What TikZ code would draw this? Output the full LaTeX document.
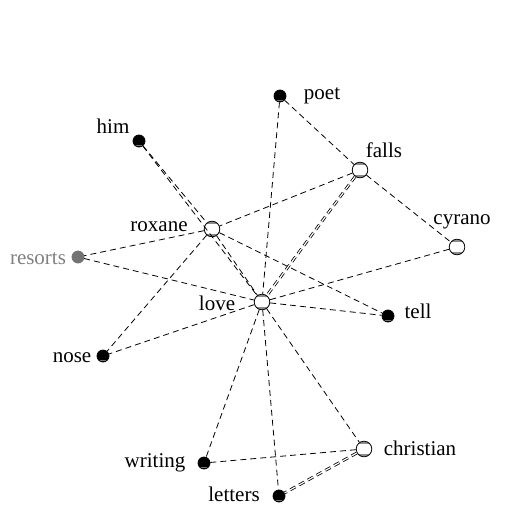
\documentclass[tikz,border=0pt]{standalone}
\usepackage{fontspec}
\setmainfont{Liberation Serif}
\begin{document}
\begin{tikzpicture}[x=0.5pt, y=-0.5pt,
  open/.style={circle, draw=black, line width=0.4pt, fill=white, inner sep=0pt, minimum size=7.8pt,
    path picture={
      \fill[black!45] ([yshift=-0.6pt]path picture bounding box.north west) rectangle ([yshift=-1.4pt]path picture bounding box.north east);
      \fill[black!45] ([yshift=0.5pt]path picture bounding box.south west) rectangle ([yshift=1.5pt]path picture bounding box.south east);}},
  closed/.style={circle, draw=black, line width=0.4pt, fill=black, inner sep=0pt, minimum size=6pt,
    path picture={
      \fill[black!55] ([yshift=0.4pt]path picture bounding box.south west) rectangle ([yshift=1.2pt]path picture bounding box.south east);}},
  grey/.style={closed, draw=black!55, fill=black!55},
  word/.style={anchor=base, inner sep=0pt, font=\fontsize{10.5}{12}\selectfont},
  link/.style={draw, line width=0.4pt, dash pattern=on 3pt off 2pt},
  twin/.style={link, double, double distance=0.6pt}
]
\useasboundingbox (0,0) rectangle (512,508);

% words
\node[closed] (poet) at (280,96) {};
\node[closed] (him) at (139,141) {};
\node[open] (falls) at (360,170) {};
\node[open] (cyrano) at (457,247) {};
\node[open] (roxane) at (212,229) {};
\node[grey] (resorts) at (78,257) {};
\node[open] (love) at (262,302) {};
\node[closed] (tell) at (388,316) {};
\node[closed] (nose) at (103,356) {};
\node[closed] (writing) at (204,463) {};
\node[open] (christian) at (364,449) {};
\node[closed] (letters) at (279,496) {};

% labels
\node[word] (poetlbl) at (322,99) {poet};
\node[word] (himlbl) at (113,133) {him};
\node[word] (fallslbl) at (384,157) {falls};
\node[word] (cyranolbl) at (462,224) {cyrano};
\node[word] (roxanelbl) at (159,231) {roxane};
\node[word, text=black!50] (resortslbl) at (38,264) {resorts};
\node[word] (lovelbl) at (217,310) {love};
\node[word] (telllbl) at (418,318) {tell};
\node[word] (noselbl) at (72,362) {nose};
\node[word] (writinglbl) at (155,467) {writing};
\node[word] (christianlbl) at (420,455) {christian};
\node[word] (letterslbl) at (234,501) {letters};

% links
\path[link] (poet) -- (falls);
\path[link] (poet) -- (love);
\path[link] (him) -- (roxane);
\path[link] (him) -- (love);
\path[link] (falls) -- (roxane);
\path[twin] (falls) -- (love);
\path[link] (falls) -- (cyrano);
\path[link] (cyrano) -- (love);
\path[link] (roxane) -- (resorts);
\path[link] (roxane) -- (nose);
\path[link] (roxane) -- (tell);
\path[link] (roxane) -- (love);
\path[link] (resorts) -- (love);
\path[link] (love) -- (tell);
\path[link] (love) -- (nose);
\path[link] (love) -- (writing);
\path[link] (love) -- (letters);
\path[link] (love) -- (christian);
\path[link] (christian) -- (writing);
\path[twin] (christian) -- (letters);
\end{tikzpicture}
\end{document}
